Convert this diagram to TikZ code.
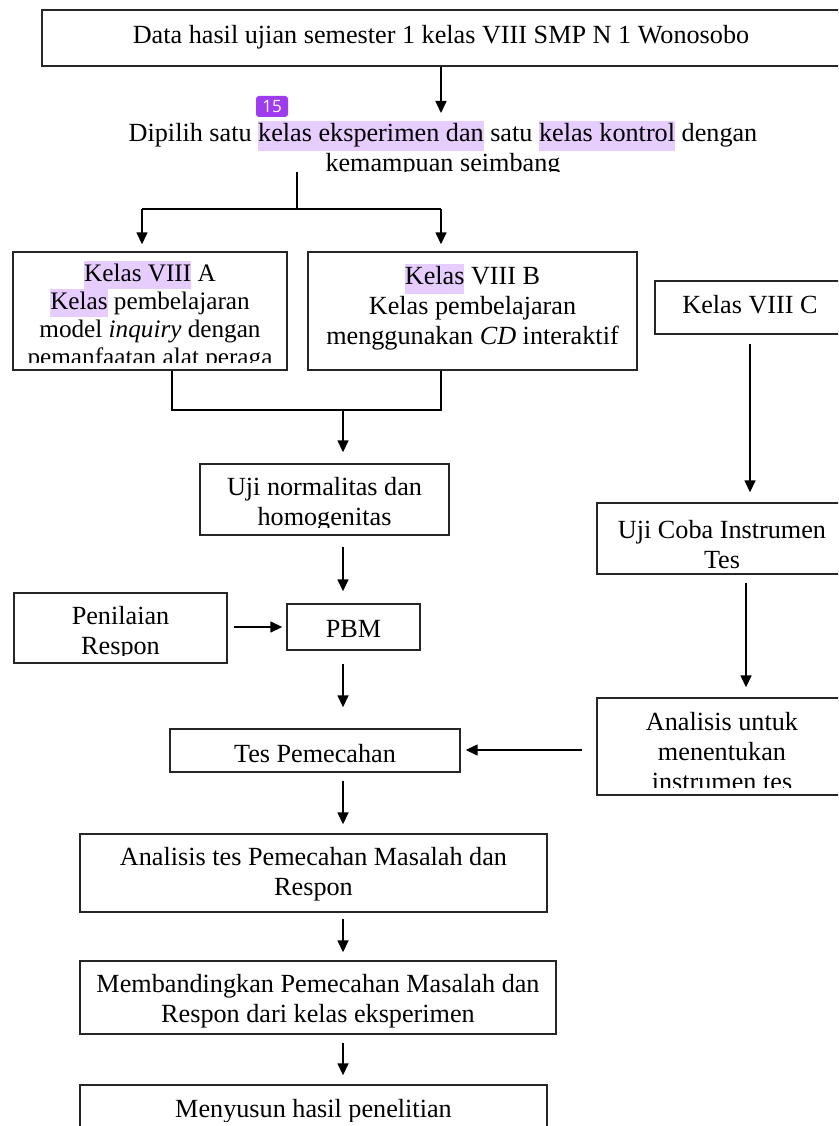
\documentclass[tikz,border=0pt]{standalone}
\usepackage{fontspec}
\setmainfont{Liberation Serif}
\newfontfamily\badgefont{Open Sans}
\usetikzlibrary{arrows.meta,calc}
\definecolor{hlc}{HTML}{E6CCFF}
\definecolor{badgec}{HTML}{A03CF0}
\newcommand{\hlt}[1]{{\setlength{\fboxsep}{0pt}\colorbox{hlc}{\strut #1}}}
\begin{document}
\begin{tikzpicture}[x=1pt,y=-1pt,
  box/.style={draw=black!85,line width=1.4pt,inner sep=0pt},
  txt/.style={font=\fontsize{26.2}{30}\selectfont,align=center,inner sep=0pt},
  txts/.style={font=\fontsize{25.2}{28}\selectfont,align=center,inner sep=0pt},
  ln/.style={line width=1.5pt,draw=black},
  arr/.style={line width=1.5pt,draw=black,-{Triangle[length=12pt,width=11pt]}}]
\clip (0,0) rectangle (838,1126);
\fill[white] (0,0) rectangle (838,1126);
% coordinates for connector columns
\coordinate (x441) at (441,0);
\coordinate (x343) at (343,0);
\coordinate (x750) at (750,0);
\coordinate (x746) at (746,0);
\coordinate (y750) at (0,750);
% boxes
\node[box,minimum width=800pt,minimum height=56pt] (top) at (442,38) {};
\node[box,minimum width=274pt,minimum height=118pt] (A) at (150,311) {};
\node[box,minimum width=329pt,minimum height=118pt] (B) at (472.5,311) {};
\node[box,minimum width=190pt,minimum height=53pt] (C) at (750,307.5) {};
\node[box,minimum width=249pt,minimum height=71pt] (norm) at (324.5,499.5) {};
\node[box,minimum width=248pt,minimum height=71pt] (coba) at (721,538.5) {};
\node[box,minimum width=248pt,minimum height=97pt] (analu) at (721,746.5) {};
\node[box,minimum width=213pt,minimum height=70pt] (pen) at (120.5,628) {};
\node[box,minimum width=133pt,minimum height=46pt] (pbm) at (353.5,627) {};
\node[box,minimum width=290pt,minimum height=43pt] (tes) at (315,750.5) {};
\node[box,minimum width=467pt,minimum height=78pt] (anat) at (313.5,873) {};
\node[box,minimum width=476pt,minimum height=73pt] (band) at (318,997.5) {};
\node[box,minimum width=467pt,minimum height=65pt] (susun) at (313.5,1117.5) {};
% texts
\node[txt] (ttop) at (441,37) {Data hasil ujian semester 1 kelas VIII SMP N 1 Wonosobo};
\begin{scope}
\clip (0,80) rectangle (838,172);
\node[txt] (tdip) at (443,149) {Dipilih satu \hlt{kelas eksperimen dan} satu \hlt{kelas kontrol} dengan\\kemampuan seimbang};
\end{scope}
\node[fill=badgec,rounded corners=3pt,text=white,font=\badgefont\fontsize{17}{17}\selectfont,minimum width=32pt,minimum height=21pt,inner sep=0pt] (badge) at (272,106.5) {15};
\begin{scope}
\clip (13,252) rectangle (287,362);
\node[txts] (tA) at (150,316) {\hlt{Kelas VIII} A\\\hlt{Kelas} pembelajaran\\model \textit{inquiry} dengan\\pemanfaatan alat peraga};
\end{scope}
\node[txt] (tB) at (472.5,307) {\hlt{Kelas} VIII B\\Kelas pembelajaran\\menggunakan \textit{CD} interaktif};
\node[txt] (tC) at (750,305) {Kelas VIII C};
\begin{scope}
\clip (200,464) rectangle (449,527);
\node[txt] (tnorm) at (324.5,504.5) {Uji normalitas dan\\homogenitas};
\end{scope}
\node[txt] (tcoba) at (722,544.5) {Uji Coba Instrumen\\Tes};
\begin{scope}
\clip (597,698) rectangle (838,787);
\node[txt] (tanalu) at (722,752) {Analisis untuk\\menentukan\\instrumen tes};
\end{scope}
\begin{scope}
\clip (14,593) rectangle (227,655);
\node[txt] (tpen) at (120.5,633.5) {Penilaian\\Respon};
\end{scope}
\node[txt] (tpbm) at (353.5,629) {PBM};
\node[txt] (ttes) at (315,754) {Tes Pemecahan};
\node[txt] (tanat) at (313.5,874.5) {Analisis tes Pemecahan Masalah dan\\Respon};
\node[txt] (tband) at (318,1001) {Membandingkan Pemecahan Masalah dan\\Respon dari kelas eksperimen};
\begin{scope}
\clip (80,1085) rectangle (547,1121);
\node[txt] (tsusun) at (313.5,1111) {Menyusun hasil penelitian};
\end{scope}
% connectors
\coordinate (p1) at (441,113);
\draw[arr] (top.south -| x441) -- (p1);
\coordinate (s0) at (297,172);
\coordinate (s1) at (297,209);
\coordinate (sL) at (142,209);
\coordinate (sR) at (441,209);
\draw[ln] (s0) -- (s1);
\draw[ln] (sL) -- (sR);
\draw[arr,shorten >=7pt] (sL) -- (A.north -| sL);
\draw[arr,shorten >=7pt] (sR) -- (B.north -| sR);
\coordinate (mL) at (172,410);
\coordinate (mR) at (441,410);
\coordinate (mM) at (343,410);
\draw[ln] (A.south -| mL) |- (mR) -- (B.south -| mR);
\draw[arr,shorten >=11pt] (mM) -- (norm.north -| mM);
\draw[arr,shorten <=11pt,shorten >=12pt] (norm.south -| x343) -- (pbm.north -| x343);
\draw[arr,shorten <=6pt,shorten >=4pt] (pen.east |- pbm) -- (pbm.west);
\draw[arr,shorten <=13pt,shorten >=21pt] (pbm.south -| x343) -- (tes.north -| x343);
\draw[arr,shorten <=8pt,shorten >=9pt] (tes.south -| x343) -- (anat.north -| x343);
\draw[arr,shorten <=6pt,shorten >=8pt] (anat.south -| x343) -- (band.north -| x343);
\draw[arr,shorten <=8pt,shorten >=9pt] (band.south -| x343) -- (susun.north -| x343);
\draw[arr,shorten <=9pt,shorten >=10pt] (C.south -| x750) -- (coba.north -| x750);
\draw[arr,shorten <=8pt,shorten >=10pt] (coba.south -| x746) -- (analu.north -| x746);
\draw[arr,shorten <=14pt,shorten >=5pt] (analu.west |- y750) -- (tes.east |- y750);
\end{tikzpicture}
\end{document}
